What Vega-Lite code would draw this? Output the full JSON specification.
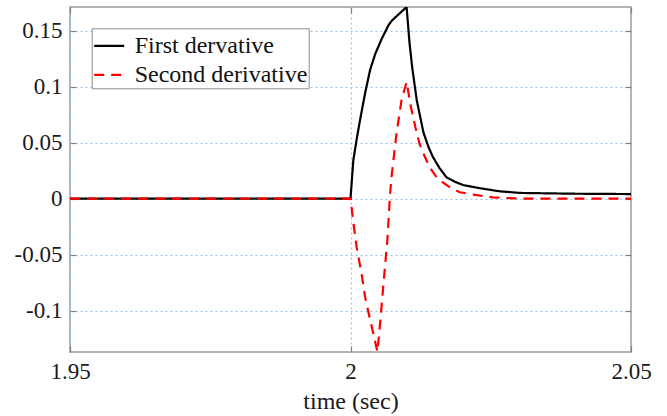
{
  "$schema": "https://vega.github.io/schema/vega-lite/v6.json",
  "width": 561,
  "height": 345,
  "autosize": {"type": "none"},
  "padding": {"left": 70, "top": 7, "right": 36, "bottom": 64},
  "background": "white",
  "config": {
    "view": {"stroke": "#9a9a9a", "strokeWidth": 1.5},
    "font": "Liberation Serif",
    "axis": {
      "domain": false,
      "tickColor": "#808080",
      "tickSize": -6,
      "tickWidth": 1.2
    },
    "legend": {
      "labelFont": "Liberation Serif",
      "labelFontSize": 24,
      "labelColor": "#111111",
      "labelLimit": 400
    }
  },
  "data": {
    "values": [
      {"t": 1.95, "value": 0, "series": "First dervative"},
      {"t": 2.0, "value": 0, "series": "First dervative"},
      {"t": 2.0005, "value": 0.034, "series": "First dervative"},
      {"t": 2.0011, "value": 0.053, "series": "First dervative"},
      {"t": 2.0017, "value": 0.07, "series": "First dervative"},
      {"t": 2.0026, "value": 0.094, "series": "First dervative"},
      {"t": 2.0035, "value": 0.115, "series": "First dervative"},
      {"t": 2.0044, "value": 0.129, "series": "First dervative"},
      {"t": 2.0056, "value": 0.143, "series": "First dervative"},
      {"t": 2.0068, "value": 0.155, "series": "First dervative"},
      {"t": 2.0074, "value": 0.159, "series": "First dervative"},
      {"t": 2.0087, "value": 0.165, "series": "First dervative"},
      {"t": 2.01, "value": 0.171, "series": "First dervative"},
      {"t": 2.0105, "value": 0.14, "series": "First dervative"},
      {"t": 2.011, "value": 0.117, "series": "First dervative"},
      {"t": 2.0118, "value": 0.088, "series": "First dervative"},
      {"t": 2.013, "value": 0.059, "series": "First dervative"},
      {"t": 2.0139, "value": 0.046, "series": "First dervative"},
      {"t": 2.0147, "value": 0.037, "series": "First dervative"},
      {"t": 2.0159, "value": 0.027, "series": "First dervative"},
      {"t": 2.0171, "value": 0.019, "series": "First dervative"},
      {"t": 2.0186, "value": 0.015, "series": "First dervative"},
      {"t": 2.0201, "value": 0.012, "series": "First dervative"},
      {"t": 2.0231, "value": 0.0092, "series": "First dervative"},
      {"t": 2.0265, "value": 0.0065, "series": "First dervative"},
      {"t": 2.0302, "value": 0.005, "series": "First dervative"},
      {"t": 2.04, "value": 0.0043, "series": "First dervative"},
      {"t": 2.05, "value": 0.004, "series": "First dervative"},
      {"t": 1.95, "value": 0, "series": "Second derivative"},
      {"t": 2.0, "value": 0, "series": "Second derivative"},
      {"t": 2.0005, "value": -0.021, "series": "Second derivative"},
      {"t": 2.0011, "value": -0.0435, "series": "Second derivative"},
      {"t": 2.002, "value": -0.068, "series": "Second derivative"},
      {"t": 2.0026, "value": -0.088, "series": "Second derivative"},
      {"t": 2.0034, "value": -0.106, "series": "Second derivative"},
      {"t": 2.004, "value": -0.119, "series": "Second derivative"},
      {"t": 2.0048, "value": -0.137, "series": "Second derivative"},
      {"t": 2.0053, "value": -0.11, "series": "Second derivative"},
      {"t": 2.0059, "value": -0.075, "series": "Second derivative"},
      {"t": 2.0066, "value": -0.035, "series": "Second derivative"},
      {"t": 2.007, "value": 0, "series": "Second derivative"},
      {"t": 2.0073, "value": 0.019, "series": "Second derivative"},
      {"t": 2.0082, "value": 0.058, "series": "Second derivative"},
      {"t": 2.0091, "value": 0.088, "series": "Second derivative"},
      {"t": 2.01, "value": 0.104, "series": "Second derivative"},
      {"t": 2.0108, "value": 0.081, "series": "Second derivative"},
      {"t": 2.0116, "value": 0.063, "series": "Second derivative"},
      {"t": 2.0123, "value": 0.049, "series": "Second derivative"},
      {"t": 2.0132, "value": 0.038, "series": "Second derivative"},
      {"t": 2.0141, "value": 0.028, "series": "Second derivative"},
      {"t": 2.0152, "value": 0.02, "series": "Second derivative"},
      {"t": 2.0164, "value": 0.0146, "series": "Second derivative"},
      {"t": 2.018, "value": 0.009, "series": "Second derivative"},
      {"t": 2.0195, "value": 0.0056, "series": "Second derivative"},
      {"t": 2.0225, "value": 0.003, "series": "Second derivative"},
      {"t": 2.0254, "value": 0.001, "series": "Second derivative"},
      {"t": 2.0302, "value": 0, "series": "Second derivative"},
      {"t": 2.05, "value": 0, "series": "Second derivative"}
    ]
  },
  "encoding": {
    "color": {
      "field": "series",
      "type": "nominal",
      "scale": {"domain": ["First dervative", "Second derivative"], "range": ["#000000", "#ff0000"]},
      "legend": {
        "title": null,
        "orient": "none",
        "legendX": 21.7,
        "legendY": 21.3,
        "symbolType": "stroke",
        "symbolSize": 900,
        "symbolStrokeWidth": 2.2,
        "labelOffset": 9,
        "labelLimit": 400,
        "rowPadding": -5.5,
        "padding": 1,
        "strokeColor": "#8c8c8c",
        "fillColor": "white",
        "cornerRadius": 0
      }
    },
    "strokeDash": {
      "field": "series",
      "type": "nominal",
      "scale": {"domain": ["First dervative", "Second derivative"], "range": [[1, 0], [10, 7]]},
      "legend": null
    }
  },
  "layer": [
    {
      "transform": [{"filter": "datum.series === 'First dervative'"}],
      "mark": {"type": "line", "strokeWidth": 2.2, "clip": true},
      "encoding": {
        "x": {
          "field": "t",
          "type": "quantitative",
          "scale": {"domain": [1.95, 2.05], "nice": false, "zero": false},
          "axis": {
            "orient": "bottom",
            "values": [1.95, 2, 2.05],
            "title": "time (sec)",
            "titleFont": "Liberation Serif",
            "titleFontSize": 24,
            "titleFontWeight": "normal",
            "titleColor": "#1a1a1a",
            "labelFont": "Liberation Serif",
            "labelFontSize": 23,
            "labelColor": "#1a1a1a",
            "labelPadding": 14,
            "titlePadding": 6,
            "labelFlush": false,
            "grid": true,
            "gridColor": "#98c2e8",
            "gridDash": [2, 3],
            "gridWidth": 1.2,
            "labelExpr": "format(datum.value, '.2~f')"
          }
        },
        "y": {
          "field": "value",
          "type": "quantitative",
          "scale": {"domain": [-0.137, 0.171], "nice": false, "zero": false},
          "axis": {
            "orient": "left",
            "values": [-0.1, -0.05, 0, 0.05, 0.1, 0.15],
            "title": null,
            "labelFont": "Liberation Serif",
            "labelFontSize": 23,
            "labelColor": "#1a1a1a",
            "labelPadding": 14,
            "grid": true,
            "gridColor": "#98c2e8",
            "gridDash": [2, 3],
            "gridWidth": 1.2,
            "labelExpr": "datum.value < 0 ? '-' + format(-datum.value, '.2~f') : format(datum.value, '.2~f')"
          }
        }
      }
    },
    {
      "transform": [{"filter": "datum.series === 'Second derivative'"}],
      "mark": {"type": "line", "strokeWidth": 2.2, "clip": true},
      "encoding": {
        "x": {
          "field": "t",
          "type": "quantitative",
          "axis": {"orient": "top", "values": [1.95, 2, 2.05], "labels": false, "grid": false, "title": null}
        },
        "y": {
          "field": "value",
          "type": "quantitative",
          "axis": {"orient": "right", "values": [-0.1, -0.05, 0, 0.05, 0.1, 0.15], "labels": false, "grid": false, "title": null}
        }
      }
    }
  ],
  "resolve": {"axis": {"x": "independent", "y": "independent"}}
}
